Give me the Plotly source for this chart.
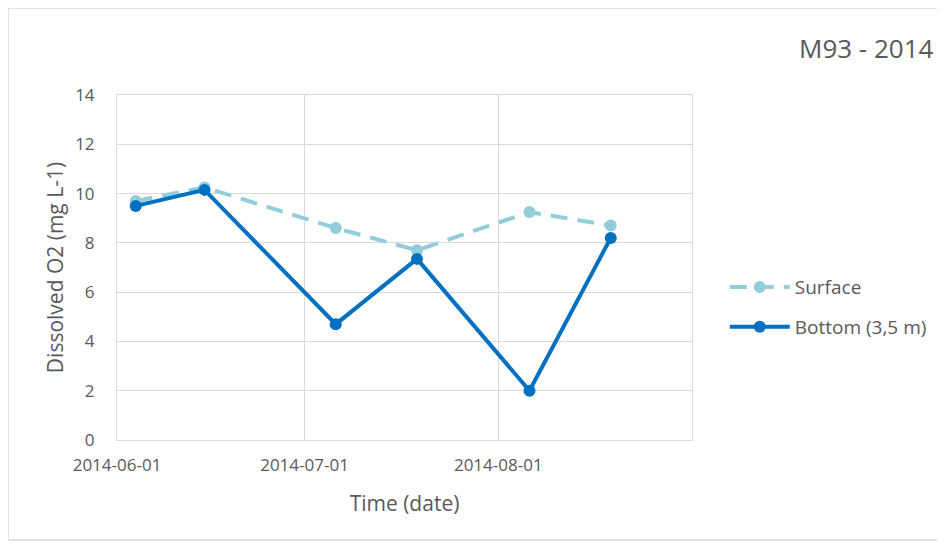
import plotly.graph_objects as go

dates = ["2014-06-04", "2014-06-15", "2014-07-06", "2014-07-19", "2014-08-06", "2014-08-19"]
surface = [9.7, 10.25, 8.6, 7.7, 9.25, 8.7]
bottom = [9.5, 10.15, 4.7, 7.35, 2.0, 8.2]
x_ticks = ["2014-06-01", "2014-07-01", "2014-08-01", "2014-09-01"]
x_ticktext = ["2014-06-01", "2014-07-01", "2014-08-01", ""]
y_ticks = [0, 2, 4, 6, 8, 10, 12, 14]

GRAY = "#595959"
GRID = "#d9d9d9"
FONT = "Open Sans"

fig = go.Figure()
fig.add_trace(go.Scatter(
    x=dates, y=surface, name="Surface", mode="lines+markers",
    legendgroup="s",
    line=dict(color="#92CDDC", width=4, dash="17px,10px"),
    marker=dict(color="#92CDDC", size=12),
))
fig.add_trace(go.Scatter(
    x=dates, y=bottom, name="Bottom (3,5 m)", mode="lines+markers",
    legendgroup="b",
    line=dict(color="#0070C0", width=4),
    marker=dict(color="#0070C0", size=12),
))

fig.update_layout(
    width=945, height=544,
    paper_bgcolor="white", plot_bgcolor="white",
    margin=dict(l=109, r=261, t=87, b=112),
    font=dict(family=FONT, color=GRAY, size=14),
    showlegend=True,
    legend=dict(x=1.057, y=0.385, xanchor="left", yanchor="middle",
                font=dict(size=19, color=GRAY, family=FONT),
                tracegroupgap=12, itemwidth=60),
    annotations=[dict(text="M93 - 2014", xref="paper", yref="paper",
                      x=1.183, y=1.135, xanchor="left", yanchor="middle",
                      showarrow=False, font=dict(size=26, color=GRAY, family=FONT))],
    shapes=[dict(type="rect", xref="paper", yref="paper",
                 x0=-0.1896, x1=1.6, y0=-0.29, y1=1.252,
                 line=dict(color="#e3e3e3", width=2))],
)
fig.update_xaxes(
    type="date", range=["2014-06-01", "2014-09-01"],
    tickvals=x_ticks, ticktext=x_ticktext,
    showgrid=True, gridcolor=GRID, gridwidth=1,
    showline=True, linecolor=GRID, mirror=True,
    ticks="", ticklabelstandoff=10,
    tickfont=dict(size=17, color=GRAY),
    title=dict(text="Time (date)", font=dict(size=21, color=GRAY), standoff=20),
    zeroline=False,
)
fig.update_yaxes(
    range=[0, 14], tickvals=y_ticks,
    showgrid=True, gridcolor=GRID, gridwidth=1,
    showline=True, linecolor=GRID, mirror=True,
    ticks="", ticklabelstandoff=18,
    tickfont=dict(size=17, color=GRAY),
    title=dict(text="Dissolved O2 (mg L-1)", font=dict(size=21, color=GRAY), standoff=5),
    zeroline=False,
)

fig.write_html("out.html")
